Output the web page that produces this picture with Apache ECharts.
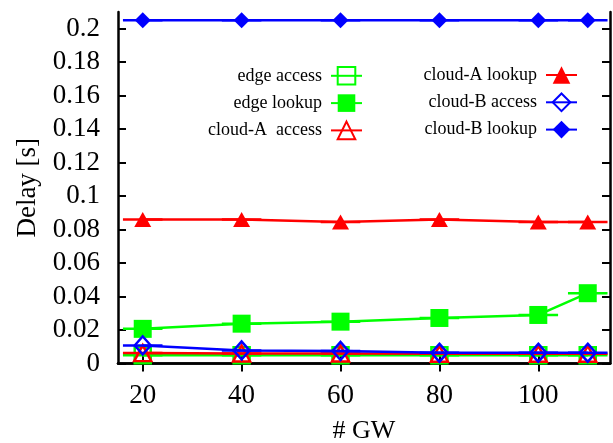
<!DOCTYPE html>
<html><head><meta charset="utf-8">
<script src="https://cdn.jsdelivr.net/npm/echarts@6/dist/echarts.min.js"></script>
<style>html,body{margin:0;padding:0;background:#fff;} #c{width:613px;height:443px;}</style>
</head><body><div id="c"></div>
<script>
const gw = [20, 40, 60, 80, 100, 110];
const gwErr = [4, 4, 4, 4, 4, 4];
const edgeAccess = [0.005, 0.005, 0.005, 0.005, 0.005, 0.005];
const edgeLookup = [0.0207, 0.0238, 0.025, 0.0272, 0.029, 0.042];
const cloudAAccess = [0.0062, 0.006, 0.006, 0.0058, 0.0058, 0.0058];
const cloudALookup = [0.086, 0.086, 0.0845, 0.086, 0.0845, 0.0845];
const cloudBAccess = [0.0108, 0.0078, 0.0075, 0.0064, 0.0064, 0.0064];
const cloudBLookup = [0.205, 0.205, 0.205, 0.205, 0.205, 0.205];
const xTicks = [20, 40, 60, 80, 100];
const yTicks = [0, 0.02, 0.04, 0.06, 0.08, 0.1, 0.12, 0.14, 0.16, 0.18, 0.2];
const names = ['edge access', 'edge lookup', 'cloud-A  access', 'cloud-A lookup', 'cloud-B access', 'cloud-B lookup'];
const values = [edgeAccess, edgeLookup, cloudAAccess, cloudALookup, cloudBAccess, cloudBLookup];

const FONT = "'Liberation Serif', 'DejaVu Serif', serif";
const styles = [
  {color: '#00ff00', symbol: 'rect', size: 16, filled: false},
  {color: '#00ff00', symbol: 'rect', size: 18, filled: true},
  {color: '#ff0000', symbol: 'triangle', size: [17, 16], filled: false},
  {color: '#ff0000', symbol: 'triangle', size: [17, 15], filled: true},
  {color: '#0000ff', symbol: 'diamond', size: [16, 18], filled: false},
  {color: '#0000ff', symbol: 'diamond', size: [16, 16], filled: true}
];

const series = [];
values.forEach(function (vals, i) {
  const st = styles[i];
  series.push({
    type: 'custom',
    name: names[i] + ' err',
    z: 2 + i,
    clip: true,
    silent: true,
    data: gw.map(function (x, k) { return [x, vals[k], gwErr[k]]; }),
    renderItem: function (params, api) {
      const x = api.value(0), y = api.value(1), e = api.value(2);
      const p1 = api.coord([x - e, y]);
      const p2 = api.coord([x + e, y]);
      return {type: 'line', shape: {x1: p1[0], y1: p1[1], x2: p2[0], y2: p2[1]},
        style: {stroke: st.color, lineWidth: 2.5}};
    }
  });
  series.push({
    type: 'line',
    name: names[i],
    z: 2 + i,
    data: gw.map(function (x, k) { return [x, vals[k]]; }),
    symbol: st.symbol,
    symbolSize: st.size,
    showAllSymbol: true,
    clip: true,
    lineStyle: {color: st.color, width: 2.5},
    itemStyle: st.filled ? {color: st.color} :
      {color: 'rgba(255,255,255,0)', borderColor: st.color, borderWidth: 2.5},
    emphasis: {disabled: true}
  });
});

const legendCommon = {
  orient: 'vertical', align: 'right', top: 66, padding: 0,
  itemWidth: 31, itemHeight: 22, itemGap: 8.5,
  selectedMode: false,
  textStyle: {fontFamily: FONT, fontSize: 18, color: '#000', padding: [0, 4, 0, 0]}
};

const chart = echarts.init(document.getElementById('c'), null, {renderer: 'canvas'});
chart.setOption({
  animation: false,
  backgroundColor: '#fff',
  grid: {left: 118, right: 3, top: 12, bottom: 79.5, containLabel: false, outerBoundsMode: 'none'},
  legend: [
    Object.assign({}, legendCommon, {data: names.slice(0, 3), right: 250}),
    Object.assign({}, legendCommon, {data: names.slice(3), right: 35})
  ],
  xAxis: [
    {type: 'value', min: 15, max: 114.5, position: 'bottom',
      name: '# GW', nameLocation: 'middle', nameGap: 55,
      nameTextStyle: {fontFamily: FONT, fontSize: 26, color: '#000'},
      axisLine: {show: true, lineStyle: {color: '#000', width: 2.5}},
      axisTick: {show: true, inside: true, length: 8, customValues: xTicks, lineStyle: {color: '#000', width: 2}},
      axisLabel: {customValues: xTicks, margin: 19, fontFamily: FONT, fontSize: 27, color: '#000'},
      splitLine: {show: false}},
    {type: 'value', min: 15, max: 114.5, position: 'top',
      axisLine: {show: true, lineStyle: {color: '#000', width: 2.5}},
      axisTick: {show: true, inside: true, length: 8, customValues: xTicks, lineStyle: {color: '#000', width: 2}},
      axisLabel: {show: false}, splitLine: {show: false}}
  ],
  yAxis: [
    {type: 'value', min: 0, max: 0.21, position: 'left',
      name: 'Delay [s]', nameLocation: 'middle', nameGap: 76,
      nameTextStyle: {fontFamily: FONT, fontSize: 27, color: '#000'},
      axisLine: {show: true, lineStyle: {color: '#000', width: 2.5}},
      axisTick: {show: true, inside: true, length: 8, customValues: yTicks, lineStyle: {color: '#000', width: 2}},
      axisLabel: {customValues: yTicks, margin: 18, fontFamily: FONT, fontSize: 27, color: '#000'},
      splitLine: {show: false}},
    {type: 'value', min: 0, max: 0.21, position: 'right',
      axisLine: {show: true, lineStyle: {color: '#000', width: 2.5}},
      axisTick: {show: true, inside: true, length: 8, customValues: yTicks, lineStyle: {color: '#000', width: 2}},
      axisLabel: {show: false}, splitLine: {show: false}}
  ],
  series: series
});
</script>
</body></html>
